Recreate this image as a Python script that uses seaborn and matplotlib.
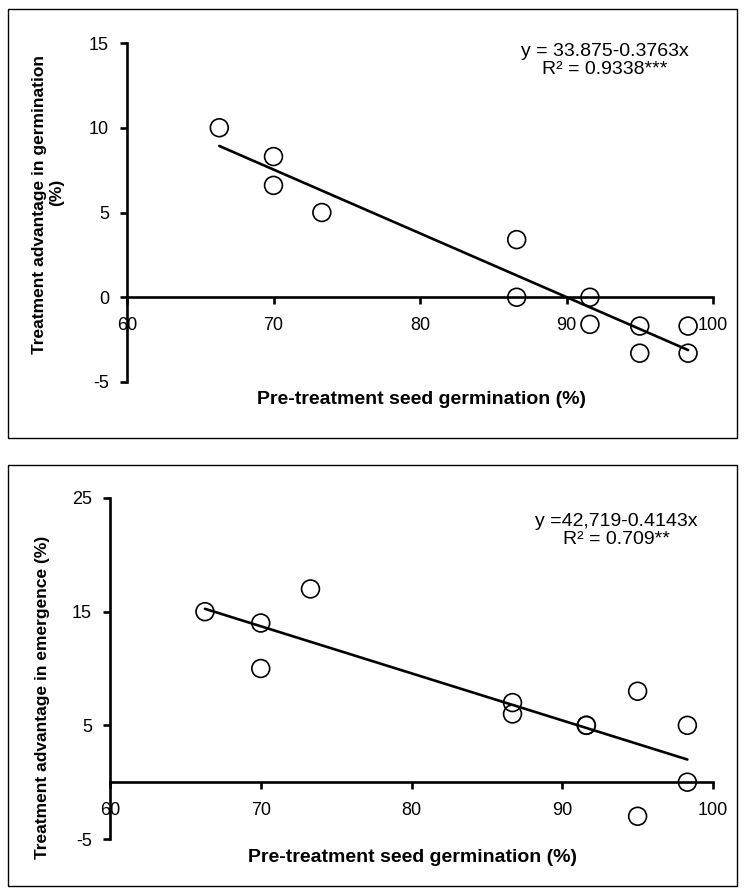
import matplotlib
matplotlib.use("Agg")
import matplotlib.pyplot as plt
import seaborn as sns
import numpy as np
import pandas as pd
from matplotlib.patches import Rectangle

# ---- data ----
pre_germ = [66.3, 70.0, 70.0, 73.3, 86.6, 86.6, 91.6, 91.6, 95.0, 95.0, 98.3, 98.3]
adv_germ = [10.0, 8.3, 6.6, 5.0, 3.4, 0.0, 0.0, -1.6, -1.7, -3.3, -1.7, -3.3]
pre_emer = [66.3, 70.0, 70.0, 73.3, 86.7, 86.7, 91.6, 91.6, 95.0, 95.0, 98.3, 98.3]
adv_emer = [15.0, 14.0, 10.0, 17.0, 7.0, 6.0, 5.0, 5.0, 8.0, -3.0, 5.0, 0.0]
fit_germ = (33.875, -0.3763)   # intercept, slope
fit_emer = (42.719, -0.4143)
x_ticks = [60, 70, 80, 90, 100]
y_ticks_germ = [-5, 0, 5, 10, 15]
y_ticks_emer = [-5, 5, 15, 25]
eq_germ = ["y = 33.875-0.3763x", "R² = 0.9338***"]
eq_emer = ["y =42,719-0.4143x", "R² = 0.709**"]
xlabel = "Pre-treatment seed germination (%)"
ylabel_germ = ["Treatment advantage in germination", "(%)"]
ylabel_emer = ["Treatment advantage in emergence (%)"]

sns.set_style("white")
plt.rcParams["font.family"] = ["Liberation Sans", "DejaVu Sans"]
plt.rcParams["text.color"] = "black"
plt.rcParams["xtick.color"] = "black"
plt.rcParams["ytick.color"] = "black"
plt.rcParams["axes.labelcolor"] = "black"

W, H = 745, 892
fig = plt.figure(figsize=(W / 100, H / 100), dpi=100)

def fx(px):
    return px / W

def fy(py):
    return 1 - py / H

# panel frames
for (x0, y0, x1, y1) in [(8, 9, 737, 438), (8, 465, 737, 886)]:
    fig.add_artist(Rectangle((fx(x0), fy(y1)), fx(x1) - fx(x0), fy(y0) - fy(y1),
                             transform=fig.transFigure, fill=False,
                             edgecolor="black", linewidth=1.0))

def panel(rect, xs, ys, fit, yticks, ylim, eq, eq_pos, ylabel, ylab_pos,
          xlab_pos, xtick_pad):
    ax = fig.add_axes(rect)
    df = pd.DataFrame({"x": xs, "y": ys})
    sns.scatterplot(data=df, x="x", y="y", ax=ax, s=165, marker="o",
                    facecolor="none", edgecolor="black", linewidth=1.2,
                    zorder=3)
    xl = np.array([min(xs), max(xs)])
    yl = fit[0] + fit[1] * xl
    sns.lineplot(x=xl, y=yl, ax=ax, color="black", linewidth=1.9, zorder=4)
    ax.set_xlim(60, 100)
    ax.set_ylim(*ylim)
    ax.set_xticks(x_ticks)
    ax.set_yticks(yticks)
    ax.set_xticklabels([str(t) for t in x_ticks])
    ax.set_yticklabels([str(t) for t in yticks])
    for s in ["top", "right"]:
        ax.spines[s].set_visible(False)
    ax.spines["bottom"].set_position(("data", 0))
    for s in ["left", "bottom"]:
        ax.spines[s].set_linewidth(1.9)
        ax.spines[s].set_color("black")
    ax.tick_params(axis="y", direction="out", length=5, width=1.9,
                   labelsize=13, pad=8, left=True)
    ax.tick_params(axis="x", direction="out", length=5, width=1.9,
                   labelsize=13, pad=xtick_pad, bottom=True)
    ax.set_xlabel("")
    ax.set_ylabel("")
    ax.grid(False)
    ax.patch.set_alpha(0)
    fig.text(fx(eq_pos[0]), fy(eq_pos[1]), eq[0], ha="center", va="center",
             fontsize=14)
    fig.text(fx(eq_pos[0]), fy(eq_pos[1] + 19), eq[1], ha="center",
             va="center", fontsize=14)
    for (lx, ly), line in zip(ylab_pos, ylabel):
        fig.text(fx(lx), fy(ly), line, rotation=90, ha="center",
                 va="center", fontsize=12.5, fontweight="bold")
    fig.text(fx(xlab_pos[0]), fy(xlab_pos[1]), xlabel, ha="center",
             va="center", fontsize=14, fontweight="bold")
    return ax

panel([fx(127), fy(382), fx(713) - fx(127), fy(43) - fy(382)],
      pre_germ, adv_germ, fit_germ, y_ticks_germ, (-5, 15), eq_germ,
      (605, 51), ylabel_germ, [(40, 205), (57, 192)], (421, 400), 9)

panel([fx(110), fy(839), fx(713) - fx(110), fy(498) - fy(839)],
      pre_emer, adv_emer, fit_emer, y_ticks_emer, (-5, 25), eq_emer,
      (616, 521), ylabel_emer, [(43, 697)], (412, 857), 9)

fig.savefig("out.png", dpi=100)
